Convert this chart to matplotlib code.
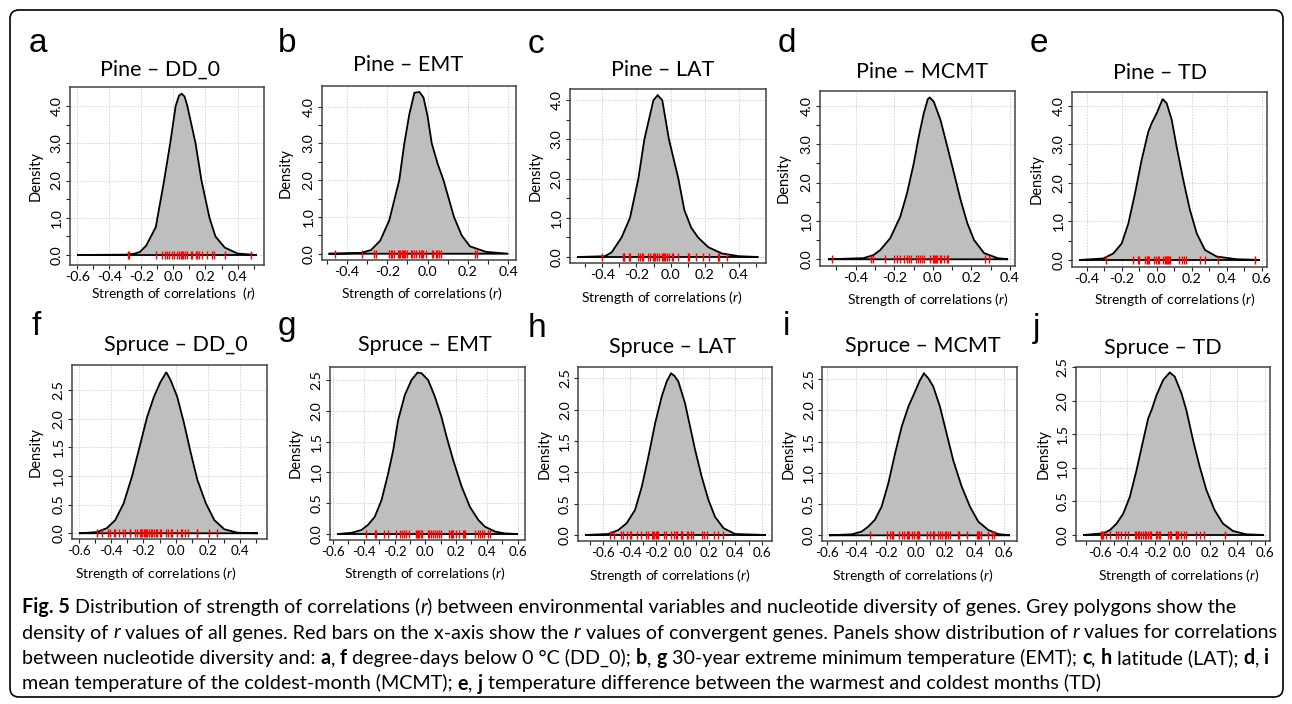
import numpy as np
import matplotlib
matplotlib.use("Agg")
import matplotlib.pyplot as plt
from matplotlib.patches import FancyBboxPatch
from matplotlib.transforms import IdentityTransform

# ---------------- data ----------------
# Pine - DD_0
pine_dd0_x = [-0.60, -0.30, -0.25, -0.21, -0.17, -0.11, -0.06, -0.02, 0.014, 0.035, 0.052, 0.07, 0.087, 0.138, 0.175, 0.225, 0.262, 0.32, 0.40, 0.52]
pine_dd0_y = [0.0, 0.01, 0.03, 0.08, 0.25, 0.75, 1.95, 3.0, 4.0, 4.28, 4.33, 4.25, 4.0, 3.0, 2.0, 1.0, 0.5, 0.2, 0.04, 0.0]
pine_dd0_rug = [-0.285, -0.274, -0.109, -0.072, -0.052, -0.037, -0.027, -0.006, 0.004, 0.021, 0.035, 0.045,
                0.052, 0.062, 0.072, 0.087, 0.107, 0.118, 0.138, 0.148, 0.159, 0.179, 0.210, 0.241, 0.252, 0.324, 0.482]

# Pine - EMT
pine_emt_x = [-0.49, -0.33, -0.28, -0.235, -0.19, -0.14, -0.115, -0.09, -0.065, -0.04, -0.02, 0.0, 0.021, 0.05, 0.079, 0.131, 0.169, 0.21, 0.29, 0.40]
pine_emt_y = [0.0, 0.02, 0.1, 0.35, 0.9, 2.0, 3.0, 3.8, 4.38, 4.4, 4.25, 3.75, 3.0, 2.45, 2.0, 1.0, 0.5, 0.2, 0.05, 0.0]
pine_emt_rug = [-0.458, -0.326, -0.265, -0.256, -0.190, -0.182, -0.174, -0.164, -0.144, -0.139, -0.134, -0.128,
                -0.123, -0.116, -0.110, -0.103, -0.083, -0.075, -0.067, -0.058, -0.040, -0.032, -0.027, -0.020,
                -0.009, 0.021, 0.029, 0.041, 0.049, 0.057, 0.065, 0.235, 0.247]

# Pine - LAT
pine_lat_x = [-0.546, -0.384, -0.345, -0.287, -0.238, -0.189, -0.154, -0.101, -0.076, -0.049, -0.01, 0.045, 0.08, 0.12, 0.16, 0.22, 0.30, 0.40, 0.513]
pine_lat_y = [0.0, 0.02, 0.12, 0.5, 1.0, 2.0, 3.0, 4.0, 4.13, 4.0, 3.0, 2.0, 1.2, 0.75, 0.5, 0.25, 0.09, 0.02, 0.0]
pine_lat_rug = [-0.400, -0.281, -0.275, -0.271, -0.246, -0.238, -0.189, -0.180, -0.170, -0.160, -0.131, -0.121,
                -0.105, -0.100, -0.092, -0.082, -0.068, -0.053, -0.047, -0.039, -0.033, -0.023, -0.010, 0.006,
                0.016, 0.041, 0.100, 0.107, 0.146, 0.187, 0.226, 0.275, 0.283, 0.332]

# Pine - MCMT
pine_mcmt_x = [-0.542, -0.36, -0.308, -0.273, -0.221, -0.169, -0.134, -0.099, -0.073, -0.047, -0.026, -0.016, 0.005, 0.04, 0.075, 0.11, 0.144, 0.179, 0.214, 0.266, 0.336, 0.39]
pine_mcmt_y = [0.0, 0.03, 0.11, 0.24, 0.55, 1.11, 1.72, 2.5, 3.2, 3.81, 4.18, 4.22, 4.11, 3.63, 2.94, 2.24, 1.55, 0.94, 0.5, 0.16, 0.03, 0.0]
pine_mcmt_rug = [-0.525, -0.322, -0.308, -0.247, -0.200, -0.186, -0.172, -0.151, -0.134, -0.122, -0.113, -0.089,
                 -0.077, -0.068, -0.056, -0.047, -0.016, 0.000, 0.005, 0.010, 0.016, 0.023, 0.035, 0.043, 0.057,
                 0.075, 0.080, 0.270, 0.292]

# Pine - TD
pine_td_x = [-0.442, -0.305, -0.248, -0.2, -0.162, -0.124, -0.086, -0.048, -0.029, 0.0, 0.034, 0.057, 0.086, 0.114, 0.152, 0.19, 0.229, 0.276, 0.343, 0.457, 0.59]
pine_td_y = [0.0, 0.04, 0.17, 0.43, 0.95, 1.73, 2.6, 3.33, 3.55, 3.81, 4.18, 4.07, 3.64, 2.94, 2.08, 1.3, 0.69, 0.26, 0.09, 0.02, 0.0]
pine_td_rug = [-0.291, -0.137, -0.109, -0.099, -0.067, -0.057, -0.048, -0.042, -0.015, -0.006, 0.006, 0.013, 0.038,
               0.048, 0.053, 0.059, 0.065, 0.070, 0.076, 0.130, 0.147, 0.156, 0.166, 0.248, 0.276, 0.349, 0.562]

# Spruce - DD_0
spruce_dd0_x = [-0.60, -0.49, -0.427, -0.375, -0.323, -0.271, -0.229, -0.177, -0.135, -0.094, -0.058, -0.031, 0.01, 0.052, 0.094, 0.135, 0.188, 0.24, 0.302, 0.385, 0.51]
spruce_dd0_y = [0.0, 0.02, 0.09, 0.23, 0.52, 0.99, 1.45, 2.03, 2.38, 2.64, 2.81, 2.67, 2.38, 1.92, 1.4, 0.93, 0.52, 0.23, 0.07, 0.01, 0.0]
spruce_dd0_rug = [-0.485, -0.454, -0.417, -0.406, -0.385, -0.375, -0.350, -0.327, -0.313, -0.285, -0.281, -0.250,
                  -0.240, -0.223, -0.215, -0.208, -0.198, -0.192, -0.183, -0.177, -0.167, -0.156, -0.146, -0.135,
                  -0.125, -0.115, -0.094, -0.088, -0.058, -0.048, -0.031, -0.021, 0.010, 0.031, 0.038, 0.058,
                  0.079, 0.131, 0.135, 0.208, 0.254]

# Spruce - EMT
spruce_emt_x = [-0.572, -0.48, -0.416, -0.372, -0.329, -0.285, -0.242, -0.209, -0.177, -0.133, -0.09, -0.051, -0.025, 0.018, 0.062, 0.105, 0.138, 0.181, 0.236, 0.29, 0.344, 0.387, 0.453, 0.518, 0.60]
spruce_emt_y = [0.0, 0.02, 0.065, 0.15, 0.28, 0.55, 0.98, 1.36, 1.85, 2.26, 2.5, 2.62, 2.61, 2.5, 2.23, 1.9, 1.58, 1.2, 0.77, 0.44, 0.23, 0.12, 0.04, 0.01, 0.0]
spruce_emt_rug = [-0.383, -0.329, -0.318, -0.268, -0.242, -0.188, -0.166, -0.155, -0.138, -0.123, -0.107, -0.064,
                  -0.057, -0.051, -0.042, -0.031, -0.025, 0.014, 0.023, 0.040, 0.047, 0.062, 0.073, 0.088, 0.105,
                  0.155, 0.166, 0.175, 0.181, 0.199, 0.220, 0.242, 0.251, 0.257, 0.322, 0.344, 0.355, 0.366,
                  0.381, 0.405, 0.420]

# Spruce - LAT
spruce_lat_x = [-0.739, -0.562, -0.486, -0.423, -0.36, -0.309, -0.259, -0.208, -0.158, -0.12, -0.087, -0.062, -0.032, 0.019, 0.057, 0.095, 0.145, 0.196, 0.246, 0.31, 0.398, 0.63]
spruce_lat_y = [0.0, 0.016, 0.08, 0.19, 0.4, 0.77, 1.25, 1.78, 2.21, 2.45, 2.58, 2.54, 2.45, 2.1, 1.73, 1.36, 0.93, 0.56, 0.29, 0.11, 0.016, 0.0]
spruce_lat_rug = [-0.549, -0.517, -0.466, -0.448, -0.423, -0.398, -0.393, -0.347, -0.315, -0.277, -0.264, -0.234,
                  -0.226, -0.213, -0.201, -0.191, -0.183, -0.138, -0.125, -0.087, -0.062, -0.049, -0.039, -0.014,
                  -0.006, -0.001, 0.032, 0.044, 0.062, 0.082, 0.145, 0.166, 0.188, 0.241, 0.272, 0.305]

# Spruce - MCMT
spruce_mcmt_x = [-0.585, -0.431, -0.364, -0.319, -0.274, -0.229, -0.184, -0.138, -0.093, -0.048, -0.003, 0.03, 0.057, 0.087, 0.12, 0.165, 0.21, 0.255, 0.312, 0.368, 0.424, 0.492, 0.559, 0.638]
spruce_mcmt_y = [0.0, 0.016, 0.06, 0.14, 0.25, 0.46, 0.83, 1.31, 1.74, 2.06, 2.3, 2.48, 2.59, 2.51, 2.38, 2.06, 1.63, 1.2, 0.78, 0.46, 0.22, 0.085, 0.02, 0.0]
spruce_mcmt_rug = [-0.307, -0.190, -0.172, -0.161, -0.150, -0.109, -0.093, -0.075, -0.060, -0.053, -0.044, -0.021,
                   -0.010, 0.008, 0.015, 0.024, 0.075, 0.098, 0.116, 0.127, 0.154, 0.165, 0.177, 0.199, 0.206,
                   0.217, 0.233, 0.285, 0.296, 0.346, 0.413, 0.420, 0.429, 0.442, 0.487, 0.514, 0.530]

# Spruce - TD
spruce_td_x = [-0.721, -0.576, -0.527, -0.479, -0.43, -0.382, -0.333, -0.285, -0.248, -0.224, -0.188, -0.139, -0.091, -0.055, -0.006, 0.03, 0.079, 0.127, 0.176, 0.236, 0.297, 0.37, 0.467, 0.593]
spruce_td_y = [0.0, 0.025, 0.074, 0.17, 0.32, 0.57, 0.97, 1.41, 1.74, 1.86, 2.08, 2.31, 2.42, 2.36, 2.11, 1.86, 1.41, 1.02, 0.67, 0.37, 0.17, 0.06, 0.01, 0.0]
spruce_td_rug = [-0.593, -0.585, -0.580, -0.556, -0.527, -0.484, -0.472, -0.447, -0.418, -0.394, -0.343, -0.338,
                 -0.326, -0.314, -0.304, -0.285, -0.273, -0.261, -0.248, -0.236, -0.229, -0.193, -0.181, -0.171,
                 -0.159, -0.103, -0.091, -0.079, -0.047, -0.042, -0.035, -0.030, -0.006, 0.011, 0.030, 0.103,
                 0.127, 0.159, 0.314]

letters = ["a", "b", "c", "d", "e", "f", "g", "h", "i", "j"]
titles = ["Pine – DD_0", "Pine – EMT", "Pine – LAT", "Pine – MCMT", "Pine – TD",
          "Spruce – DD_0", "Spruce – EMT", "Spruce – LAT", "Spruce – MCMT", "Spruce – TD"]
curves_x = [pine_dd0_x, pine_emt_x, pine_lat_x, pine_mcmt_x, pine_td_x,
            spruce_dd0_x, spruce_emt_x, spruce_lat_x, spruce_mcmt_x, spruce_td_x]
curves_y = [pine_dd0_y, pine_emt_y, pine_lat_y, pine_mcmt_y, pine_td_y,
            spruce_dd0_y, spruce_emt_y, spruce_lat_y, spruce_mcmt_y, spruce_td_y]
rugs = [pine_dd0_rug, pine_emt_rug, pine_lat_rug, pine_mcmt_rug, pine_td_rug,
        spruce_dd0_rug, spruce_emt_rug, spruce_lat_rug, spruce_mcmt_rug, spruce_td_rug]

# ---------------- layout (pixels) ----------------
W, H = 1292, 704
boxes = [(70, 87, 264, 265), (321.7, 86, 516, 260), (570, 89.3, 765.7, 263.3), (820, 91, 1015, 266),
         (1071.7, 91.7, 1266.7, 266.7), (71.7, 365, 266.7, 539.3), (330, 366.7, 525, 540),
         (578.3, 367.3, 772.3, 540.7), (822.3, 367.3, 1016.7, 541), (1076, 366.7, 1270, 540.7)]
xlims = [(-0.645, 0.565), (-0.524, 0.438), (-0.589, 0.556), (-0.585, 0.426), (-0.486, 0.629),
         (-0.645, 0.565), (-0.62, 0.648), (-0.79, 0.68), (-0.63, 0.684), (-0.775, 0.64)]
ylims = [(-0.268, 4.51), (-0.171, 4.563), (-0.161, 4.28), (-0.175, 4.39), (-0.174, 4.37),
         (-0.105, 2.936), (-0.097, 2.716), (-0.091, 2.676), (-0.091, 2.687), (-0.085, 2.506)]
title_pos = [(160, 70), (408, 65), (663, 70), (922, 72), (1160, 73),
             (176, 345), (425, 345), (672, 347), (923, 346), (1163, 348)]
letter_pos = [(29, 52), (278, 52), (528, 53), (778, 52), (1030, 52),
              (32, 335), (278, 335), (528, 337), (783, 335), (1033, 337)]
ylab_x = [36, 286, 536, 784, 1037, 36, 296, 545, 789, 1044]
xlab_pos = [(174, 294), (422, 294), (662, 298), (928, 299), (1175, 300),
            (156, 574), (425, 574), (670, 575), (913, 575), (1179, 575)]

plt.rcParams["font.family"] = ["Lato", "DejaVu Sans"]
plt.rcParams["mathtext.fontset"] = "custom"
plt.rcParams["mathtext.it"] = "Lato:italic"
plt.rcParams["mathtext.rm"] = "Lato"

fig = plt.figure(figsize=(W / 100, H / 100), dpi=100)
fig.patch.set_facecolor("white")


def fx(x):
    return x / W


def fy(y):
    return 1 - y / H


def fmt(v):
    if abs(v) < 1e-9:
        v = 0.0
    return "%.1f" % v


for i in range(10):
    l, t, r, b = boxes[i]
    ax = fig.add_axes([fx(l), fy(b), (r - l) / W, (b - t) / H])
    ax.set_xlim(*xlims[i])
    ax.set_ylim(*ylims[i])
    top_row = i < 5

    # x ticks every 0.1, labels every 0.2
    k0 = int(np.ceil(xlims[i][0] * 10 - 1e-6))
    k1 = int(np.floor(xlims[i][1] * 10 + 1e-6))
    xt = [k / 10 for k in range(k0, k1 + 1)]
    ax.set_xticks(xt)
    ax.set_xticklabels([fmt(v) if k % 2 == 0 else "" for v, k in zip(xt, range(k0, k1 + 1))])
    # y ticks every 0.5
    ymax_lab = 4.0 if top_row else 2.5
    yt = [k * 0.5 for k in range(int(ymax_lab / 0.5) + 1)]
    ax.set_yticks(yt)
    if top_row:
        ax.set_yticklabels([fmt(v) if k % 2 == 0 else "" for k, v in enumerate(yt)])
    else:
        ax.set_yticklabels([fmt(v) for v in yt])

    ax.tick_params(axis="both", direction="out", length=3.2, width=0.8, color="#222222")
    ax.tick_params(axis="x", labelsize=10.3 if top_row else 9.6, pad=1.2)
    ax.tick_params(axis="y", labelsize=10.3, pad=2.0, labelrotation=90)
    for lab in ax.get_yticklabels():
        lab.set_verticalalignment("center")

    for sp in ax.spines.values():
        sp.set_color("#444444")
        sp.set_linewidth(1.1)

    # grid at labelled positions
    for v, k in zip(xt, range(k0, k1 + 1)):
        if k % 2 == 0:
            ax.axvline(v, color="#d2d2d2", lw=0.7, ls=(0, (1.5, 1.5)), zorder=0)
    for k, v in enumerate(yt):
        if top_row and k % 2 == 1:
            continue
        ax.axhline(v, color="#d2d2d2", lw=0.7, ls=(0, (1.5, 1.5)), zorder=0)

    ax.fill(curves_x[i], curves_y[i], facecolor="#bebebe", edgecolor="black", lw=1.3, zorder=2)
    ax.plot(rugs[i], np.zeros(len(rugs[i])), ls="none", marker="|", ms=5.4, mew=1.0,
            color="red", zorder=3)

    # texts
    fig.text(fx(title_pos[i][0]), fy(title_pos[i][1]), titles[i], ha="center", va="center",
             fontsize=15.5)
    fig.text(fx(letter_pos[i][0]), fy(letter_pos[i][1]), letters[i], ha="left", va="baseline",
             fontsize=24, family=["Liberation Sans", "DejaVu Sans"])
    fig.text(fx(ylab_x[i]), fy((t + b) / 2), "Density", rotation=90, ha="center", va="center",
             fontsize=10.5)
    xl = "Strength of correlations  ($\\mathit{r}$)" if i == 0 else "Strength of correlations ($\\mathit{r}$)"
    fig.text(fx(xlab_pos[i][0]), fy(xlab_pos[i][1]), xl, ha="center", va="center", fontsize=10)

# rounded frame
frame = FancyBboxPatch((10, H - 697), 1273, 687, boxstyle="round,pad=0,rounding_size=9",
                       transform=IdentityTransform(), facecolor="none", edgecolor="black", lw=1.2)
fig.patches.append(frame)

# ---------------- caption ----------------
N, B, I = "normal", "bold", "italic"
cap_lines = [
    [("Fig. 5", B, N, 0), ("Distribution of strength of correlations (", N, N, 1), ("r", N, I, 0),
     (") between environmental variables and nucleotide diversity of genes. Grey polygons show the", N, N, 0)],
    [("density of", N, N, 0), ("r", N, I, 1), ("values of all genes. Red bars on the x-axis show the", N, N, 1),
     ("r", N, I, 1), ("values of convergent genes. Panels show distribution of", N, N, 1), ("r", N, I, 1),
     ("values for correlations", N, N, 1)],
    [("between nucleotide diversity and:", N, N, 0), ("a", B, N, 1), (",", N, N, 0), ("f", B, N, 1),
     ("degree-days below 0 °C (DD_0);", N, N, 1), ("b", B, N, 1), (",", N, N, 0), ("g", B, N, 1),
     ("30-year extreme minimum temperature (EMT);", N, N, 1), ("c", B, N, 1), (",", N, N, 0), ("h", B, N, 1),
     ("latitude (LAT);", N, N, 1), ("d", B, N, 1), (",", N, N, 0), ("i", B, N, 1)],
    [("mean temperature of the coldest-month (MCMT);", N, N, 0), ("e", B, N, 1), (",", N, N, 0), ("j", B, N, 1),
     ("temperature difference between the warmest and coldest months (TD)", N, N, 1)],
]
cap_base = [613, 638.5, 664, 689.5]
cap_x0 = 22
cap_target = 1277 - 22

fig.canvas.draw()
renderer = fig.canvas.get_renderer()


def seg_width(txt, w, st, size):
    t = fig.text(0, 0, txt, fontsize=size, weight=w, style=st)
    wd = t.get_window_extent(renderer).width
    t.remove()
    return wd


def space_width(size):
    return seg_width("x x", N, N, size) - seg_width("xx", N, N, size)


def line_width(segs, size):
    sw = space_width(size)
    tot = 0.0
    for txt, w, st, gap in segs:
        tot += (sw if gap else 0) + seg_width(txt, w, st, size)
    return tot


base_size = 12.0
cap_size = base_size * cap_target / line_width(cap_lines[1], base_size)
sw = space_width(cap_size)
for segs, yb in zip(cap_lines, cap_base):
    x = cap_x0
    for txt, w, st, gap in segs:
        if gap:
            x += sw
        fig.text(fx(x), fy(yb), txt, fontsize=cap_size, weight=w, style=st, ha="left", va="baseline")
        x += seg_width(txt, w, st, cap_size)

fig.savefig("out.png", dpi=100)
